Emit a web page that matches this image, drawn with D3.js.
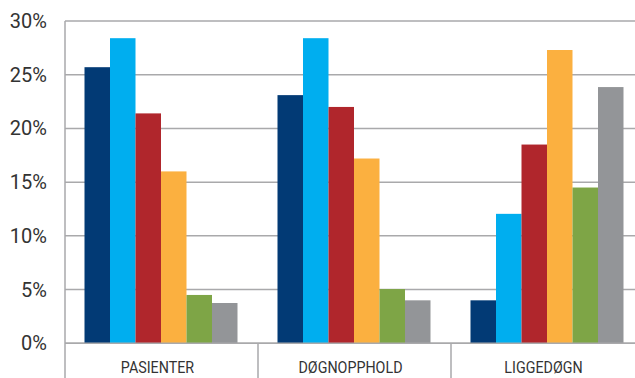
<!DOCTYPE html>
<html>
<head>
<meta charset="utf-8">
<script src="https://cdn.jsdelivr.net/npm/d3@7"></script>
<style>
  html, body { margin: 0; padding: 0; background: #fff; overflow: hidden; }
  svg { display: block; }
  .tick-label { font-family: Roboto, "DejaVu Sans", sans-serif; fill: #333; }
</style>
</head>
<body>
<svg id="chart" width="635" height="378"></svg>
<script>
// Share of patients, stays and bed-days per group (percent)
const categories = ["PASIENTER", "DØGNOPPHOLD", "LIGGEDØGN"];
const seriesNames = ["s1", "s2", "s3", "s4", "s5", "s6"];
const seriesColors = ["#023a75", "#00aeef", "#b0262c", "#fbb040", "#7ea546", "#939598"];
const values = [
  [25.7, 28.4, 21.4, 16.0, 4.5, 3.75],   // PASIENTER
  [23.1, 28.4, 22.0, 17.2, 5.05, 4.0],   // DØGNOPPHOLD
  [4.0, 12.05, 18.5, 27.3, 14.5, 23.85]  // LIGGEDØGN
];
const yTicks = [0, 5, 10, 15, 20, 25, 30];

const svg = d3.select("#chart");
const plotLeft = 65, plotTop = 21, plotBottom = 343.3, bandW = 193;

const x0 = d3.scaleBand()
  .domain(categories)
  .range([plotLeft, plotLeft + bandW * categories.length])
  .paddingInner(0).paddingOuter(0);

const x1 = d3.scaleBand()
  .domain(seriesNames)
  .range([19.5, 19.5 + 153]);

const y = d3.scaleLinear().domain([0, 30]).range([plotBottom, plotTop]);

// horizontal gridlines
svg.append("g").selectAll("line")
  .data(yTicks)
  .join("line")
  .attr("x1", plotLeft).attr("x2", 635)
  .attr("y1", d => y(d)).attr("y2", d => y(d))
  .attr("stroke", "#a9a9ab").attr("stroke-width", 1.5);

// y tick labels
svg.append("g").selectAll("text")
  .data(yTicks)
  .join("text")
  .attr("class", "tick-label")
  .attr("x", 47)
  .attr("y", d => y(d) + 7)
  .attr("text-anchor", "end")
  .style("font-size", "20px")
  .text(d => d + "%");

// bars
const groups = svg.append("g").selectAll("g")
  .data(categories)
  .join("g")
  .attr("transform", c => `translate(${x0(c)},0)`);

groups.selectAll("rect")
  .data((c, i) => values[i].map((v, j) => ({ v, s: seriesNames[j], color: seriesColors[j] })))
  .join("rect")
  .attr("x", d => x1(d.s))
  .attr("width", x1.bandwidth())
  .attr("y", d => y(d.v))
  .attr("height", d => y(0) - y(d.v))
  .attr("fill", d => d.color);

// axis lines
svg.append("line")
  .attr("x1", plotLeft).attr("x2", plotLeft)
  .attr("y1", plotTop).attr("y2", 378)
  .attr("stroke", "#a9a9ab").attr("stroke-width", 1.5);
svg.append("line")
  .attr("x1", plotLeft).attr("x2", 635)
  .attr("y1", plotBottom).attr("y2", plotBottom)
  .attr("stroke", "#a9a9ab").attr("stroke-width", 1.5);

// category dividers
svg.append("g").selectAll("line")
  .data(categories.slice(1))
  .join("line")
  .attr("x1", c => x0(c)).attr("x2", c => x0(c))
  .attr("y1", plotBottom).attr("y2", 378)
  .attr("stroke", "#a9a9ab").attr("stroke-width", 1.5);

// category labels
svg.append("g").selectAll("text")
  .data(categories)
  .join("text")
  .attr("class", "tick-label")
  .attr("x", c => x0(c) + bandW / 2 - 4)
  .attr("y", 373)
  .attr("text-anchor", "middle")
  .style("font-size", "17px")
  .text(c => c)
  .each(function () {
    const w = this.getComputedTextLength();
    d3.select(this).attr("textLength", w * 0.84).attr("lengthAdjust", "spacingAndGlyphs");
  });
</script>
</body>
</html>
